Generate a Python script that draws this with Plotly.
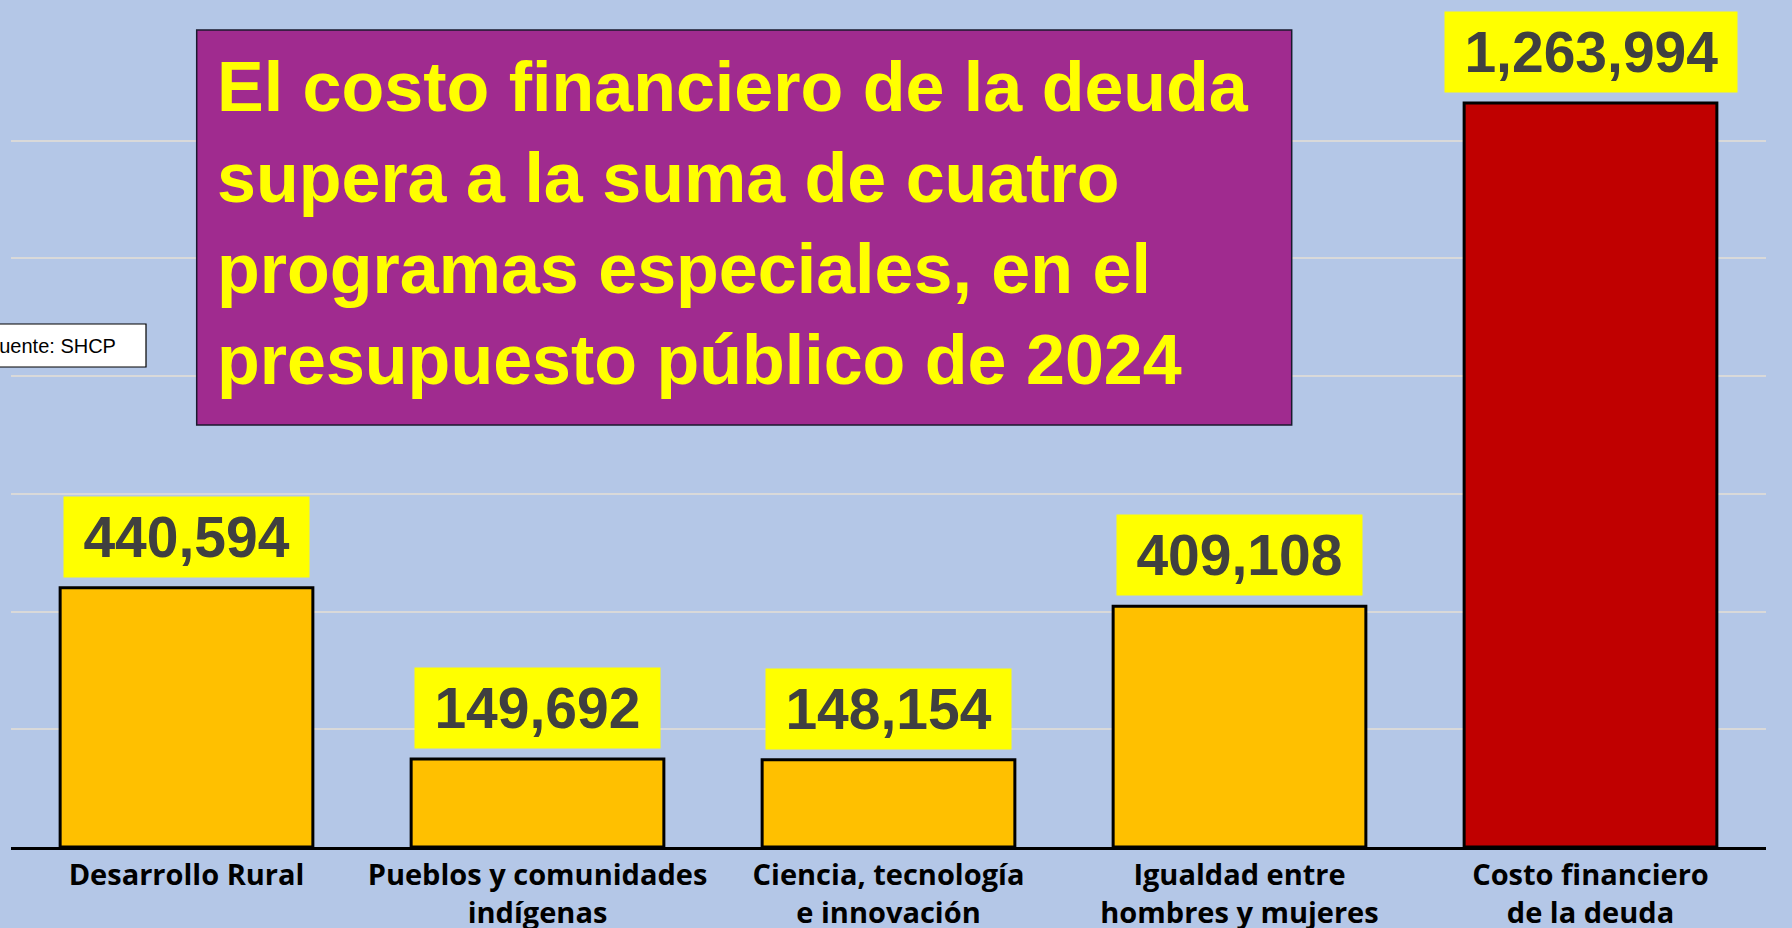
import plotly.graph_objects as go

categories = [
    "Desarrollo Rural",
    "Pueblos y comunidades<br>indígenas",
    "Ciencia, tecnología<br>e innovación",
    "Igualdad entre<br>hombres y mujeres",
    "Costo financiero<br>de la deuda",
]
values = [440594, 149692, 148154, 409108, 1263994]
bar_colors = ["#FFC000", "#FFC000", "#FFC000", "#FFC000", "#C00000"]
title_text = ("El costo financiero de la deuda<br>supera a la suma de cuatro<br>"
              "programas especiales, en el<br>presupuesto público de 2024")
source_text = "Fuente: SHCP"

W, H = 1792, 928
ML, MR, MT, MB = 11, 26, 23, 81
PW = W - ML - MR
PH = H - MT - MB


def px_x(p):
    return (p - ML) / PW


def px_y(p):
    return (H - MB - p) / PH


fig = go.Figure()
fig.add_trace(go.Bar(
    x=categories, y=values,
    marker=dict(color=bar_colors, line=dict(color="black", width=3)),
    hoverinfo="skip",
))

annotations = []
for c, v in zip(categories, values):
    annotations.append(dict(
        x=c, y=v, xref="x", yref="y", yanchor="bottom", yshift=10,
        text="\u2009" + f"{v:,}" + "\u2009", showarrow=False,
        font=dict(family="Liberation Sans", size=57, color="#404040", weight="bold"),
        bgcolor="#FFFF00", borderpad=8,
    ))

annotations.append(dict(
    x=px_x(215), y=px_y(223), xref="paper", yref="paper",
    xanchor="left", yanchor="middle", align="left",
    text=title_text, showarrow=False,
    font=dict(family="Liberation Sans", size=70, color="#FFFF00", weight="bold"),
))

annotations.append(dict(
    x=px_x(118), y=px_y(346), xref="paper", yref="paper",
    xanchor="right", yanchor="middle",
    text=source_text, showarrow=False,
    font=dict(family="Liberation Sans", size=20, color="black"),
))

shapes = [
    dict(type="rect", xref="paper", yref="paper",
         x0=px_x(-60), x1=px_x(146), y0=px_y(367), y1=px_y(324),
         fillcolor="white", line=dict(color="black", width=1.2), layer="above"),
    dict(type="rect", xref="paper", yref="paper",
         x0=px_x(196.7), x1=px_x(1291.7), y0=px_y(425), y1=px_y(30),
         fillcolor="#A02B8F", line=dict(color="#1a1a2e", width=1.5), layer="above"),
]

fig.update_layout(
    width=W, height=H,
    margin=dict(l=ML, r=MR, t=MT, b=MB, autoexpand=False),
    paper_bgcolor="#B4C7E7", plot_bgcolor="#B4C7E7",
    bargap=0.28, showlegend=False,
    annotations=annotations, shapes=shapes,
)
fig.update_yaxes(range=[0, 1400000], dtick=200000, showticklabels=False,
                 gridcolor="#D9D9D9", gridwidth=2, zeroline=False, showline=False,
                 automargin=False)
fig.update_xaxes(showline=True, linecolor="black", linewidth=3, showgrid=False,
                 ticks="", automargin=False,
                 tickfont=dict(family="Open Sans", size=29, color="black", weight="bold"))

fig.write_html("out.html", config={"displayModeBar": False},
               post_script="document.body.style.margin='0';")
